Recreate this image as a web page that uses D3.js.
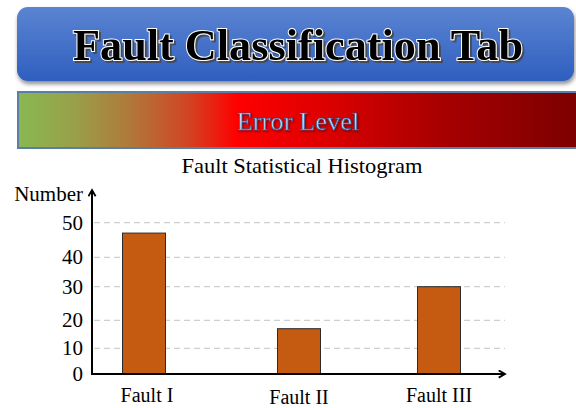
<!DOCTYPE html>
<html>
<head>
<meta charset="utf-8">
<script src="https://cdn.jsdelivr.net/npm/d3@7"></script>
<style>
  body { margin: 0; background: #fff; }
  svg { display: block; }
  text { font-family: "Liberation Serif", "Times New Roman", serif; }
</style>
</head>
<body>
<div id="chart"></div>
<script>
// Daten
const categories = ["Fault I", "Fault II", "Fault III"];
const counts = [47, 17, 30];
const yTicks = [0, 10, 20, 30, 40, 50];

const width = 576, height = 408;
const serif = "Liberation Serif, Times New Roman, serif";

const svg = d3.select("#chart")
    .append("svg")
    .attr("width", width)
    .attr("height", height);

const defs = svg.append("defs");

// Blauer Verlauf für den Kopf
const blue = defs.append("linearGradient")
    .attr("id", "blue").attr("x1", 0).attr("x2", 0).attr("y1", 0).attr("y2", 1);
blue.append("stop").attr("offset", "0%").attr("stop-color", "#5b84d2");
blue.append("stop").attr("offset", "100%").attr("stop-color", "#2f5fbf");

const shadow = defs.append("filter").attr("id", "shadow")
    .attr("x", "-5%").attr("y", "-20%").attr("width", "110%").attr("height", "150%");
shadow.append("feDropShadow").attr("dx", 1).attr("dy", 3).attr("stdDeviation", 2)
    .attr("flood-color", "#000").attr("flood-opacity", 0.45);

const textShadow = defs.append("filter").attr("id", "tshadow");
textShadow.append("feDropShadow").attr("dx", 2).attr("dy", 2).attr("stdDeviation", 0.6)
    .attr("flood-color", "#444").attr("flood-opacity", 0.85);

// Farbverlauf für Error Level
const errGrad = defs.append("linearGradient")
    .attr("id", "err").attr("x1", 0).attr("x2", 1).attr("y1", 0).attr("y2", 0);
[["0%", "#88b852"], ["10%", "#99a049"], ["20%", "#b0783a"], ["30%", "#d04624"],
 ["39%", "#ff0000"], ["55%", "#dc0000"], ["75%", "#a80000"], ["100%", "#7c0000"]]
    .forEach(([o, c]) => errGrad.append("stop").attr("offset", o).attr("stop-color", c));

const lightBlue = defs.append("linearGradient")
    .attr("id", "lb").attr("x1", 0).attr("x2", 0).attr("y1", 0).attr("y2", 1);
lightBlue.append("stop").attr("offset", "0%").attr("stop-color", "#d6ecff");
lightBlue.append("stop").attr("offset", "100%").attr("stop-color", "#86bdea");

const softShadow = defs.append("filter").attr("id", "softshadow");
softShadow.append("feDropShadow").attr("dx", 1).attr("dy", 1).attr("stdDeviation", 0.8)
    .attr("flood-color", "#000").attr("flood-opacity", 0.5);

// Kopfzeile
svg.append("rect")
    .attr("x", 17).attr("y", 7).attr("width", 557).attr("height", 74)
    .attr("rx", 11)
    .attr("fill", "url(#blue)")
    .attr("filter", "url(#shadow)");

svg.append("text")
    .attr("x", 298).attr("y", 60)
    .attr("text-anchor", "middle")
    .attr("font-family", serif)
    .attr("font-size", 45)
    .attr("font-weight", "bold")
    .attr("textLength", 450)
    .attr("lengthAdjust", "spacingAndGlyphs")
    .attr("fill", "#000")
    .attr("stroke", "#fff")
    .attr("stroke-width", 2)
    .attr("paint-order", "stroke")
    .attr("filter", "url(#tshadow)")
    .text("Fault Classification Tab");

// Error-Level-Balken
svg.append("rect")
    .attr("x", 18).attr("y", 92).attr("width", 562).attr("height", 56)
    .attr("fill", "url(#err)")
    .attr("stroke", "#5b7ea6")
    .attr("stroke-width", 2);

svg.append("text")
    .attr("x", 298).attr("y", 130)
    .attr("text-anchor", "middle")
    .attr("font-family", serif)
    .attr("font-size", 26)
    .attr("textLength", 123)
    .attr("lengthAdjust", "spacingAndGlyphs")
    .attr("fill", "url(#lb)")
    .attr("stroke", "#2a5590")
    .attr("stroke-width", 0.6)
    .attr("filter", "url(#softshadow)")
    .text("Error Level");

// Diagrammtitel
svg.append("text")
    .attr("x", 302).attr("y", 173)
    .attr("text-anchor", "middle")
    .attr("font-family", serif)
    .attr("font-size", 22)
    .attr("textLength", 241)
    .attr("lengthAdjust", "spacingAndGlyphs")
    .attr("fill", "#000")
    .text("Fault Statistical Histogram");

// Skalen (Gitterlinien im Original unregelmäßig verteilt)
const x0 = 92, xEnd = 505;
const y = d3.scaleLinear()
    .domain(yTicks)
    .range([374, 348.3, 320.3, 286.7, 257.3, 222.7]);

const x = d3.scaleOrdinal()
    .domain(categories)
    .range([144, 299, 439]);
const barWidth = 43;

// Gitterlinien
svg.append("g")
    .selectAll("line")
    .data(yTicks.filter(d => d > 0))
    .join("line")
    .attr("x1", x0 + 2).attr("x2", xEnd)
    .attr("y1", d => y(d)).attr("y2", d => y(d))
    .attr("stroke", "#c4c4c4")
    .attr("stroke-width", 1)
    .attr("stroke-dasharray", "6,4");

// Balken
svg.append("g")
    .selectAll("rect")
    .data(counts)
    .join("rect")
    .attr("x", (d, i) => x(categories[i]) - barWidth / 2)
    .attr("y", d => y(d))
    .attr("width", barWidth)
    .attr("height", d => y(0) - y(d))
    .attr("fill", "#c55a11")
    .attr("stroke", "#2b2b2b")
    .attr("stroke-width", 1);

// Achsen mit Pfeilen
defs.append("marker")
    .attr("id", "arrow")
    .attr("viewBox", "0 0 10 10")
    .attr("refX", 8).attr("refY", 5)
    .attr("markerWidth", 4.5).attr("markerHeight", 4.5)
    .attr("orient", "auto")
    .append("path")
    .attr("d", "M1,1 L8,5 L1,9")
    .attr("fill", "none")
    .attr("stroke", "#000")
    .attr("stroke-width", 2);

svg.append("line")
    .attr("x1", x0).attr("x2", x0)
    .attr("y1", y(0) + 1).attr("y2", 190)
    .attr("stroke", "#000").attr("stroke-width", 2)
    .attr("marker-end", "url(#arrow)");

svg.append("line")
    .attr("x1", x0 - 1).attr("x2", 505)
    .attr("y1", y(0)).attr("y2", y(0))
    .attr("stroke", "#000").attr("stroke-width", 2)
    .attr("marker-end", "url(#arrow)");

// Achsenbeschriftungen
svg.append("g")
    .selectAll("text")
    .data(yTicks)
    .join("text")
    .attr("x", 83)
    .attr("y", d => y(d) + 7)
    .attr("text-anchor", "end")
    .attr("font-family", serif)
    .attr("font-size", 21)
    .attr("fill", "#000")
    .text(d => d);

svg.append("text")
    .attr("x", 83).attr("y", 201)
    .attr("text-anchor", "end")
    .attr("font-family", serif)
    .attr("font-size", 21)
    .attr("fill", "#000")
    .text("Number");

svg.append("g")
    .selectAll("text")
    .data(categories)
    .join("text")
    .attr("x", d => x(d) + (d === "Fault I" ? 3 : 0))
    .attr("y", d => d === "Fault II" ? 404 : 402)
    .attr("text-anchor", "middle")
    .attr("font-family", serif)
    .attr("font-size", 20)
    .attr("fill", "#000")
    .text(d => d);
</script>
</body>
</html>
